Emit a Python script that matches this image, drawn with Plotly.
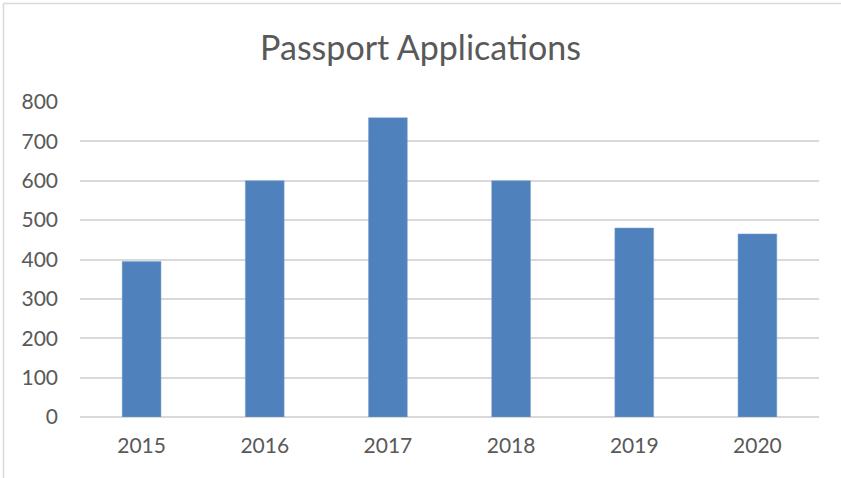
import plotly.graph_objects as go

years = ["2015", "2016", "2017", "2018", "2019", "2020"]
applications = [395, 600, 760, 600, 480, 465]
y_ticks = [0, 100, 200, 300, 400, 500, 600, 700, 800]

W, H = 841, 478
L, R, T, B = 80, 22, 102, 61
pw, ph = W - L - R, H - T - B

fig = go.Figure(go.Bar(
    x=years, y=applications,
    marker=dict(color="#4F81BD", line=dict(color="#7FA3D3", width=0.5)),
    width=0.315,
))

bx = (3.5 - L) / pw
by = 1 + (T - 3.5) / ph
fig.update_layout(
    width=W, height=H,
    margin=dict(l=L, r=R, t=T, b=B),
    paper_bgcolor="white", plot_bgcolor="white",
    font=dict(family="Lato, Liberation Sans, sans-serif", color="#595959", size=21),
    title=dict(text="Passport Applications", x=0.5, xanchor="center",
               y=1 - 48 / H, yanchor="middle",
               font=dict(size=34, color="#595959")),
    showlegend=False,
    bargap=0.685,
    xaxis=dict(showgrid=False, showline=False, ticks="", ticklabelstandoff=14,
               tickfont=dict(size=21)),
    yaxis=dict(range=[0, 800], tickvals=y_ticks, showgrid=True,
               gridcolor="#D9D9D9", gridwidth=1.8, zeroline=True,
               zerolinecolor="#D9D9D9", zerolinewidth=1.8, showline=False,
               ticks="", ticklabelstandoff=21, tickfont=dict(size=21)),
    shapes=[
        dict(type="line", xref="paper", yref="paper",
             x0=bx, x1=(W + 5 - L) / pw, y0=by, y1=by,
             line=dict(color="#D9D9D9", width=1.5), layer="below"),
        dict(type="line", xref="paper", yref="paper",
             x0=bx, x1=bx, y0=-(B + 5) / ph, y1=by,
             line=dict(color="#D9D9D9", width=1.5), layer="below"),
    ],
)

fig.write_html("out.html", config={"displayModeBar": False},
               post_script="document.body.style.margin='0px';")
